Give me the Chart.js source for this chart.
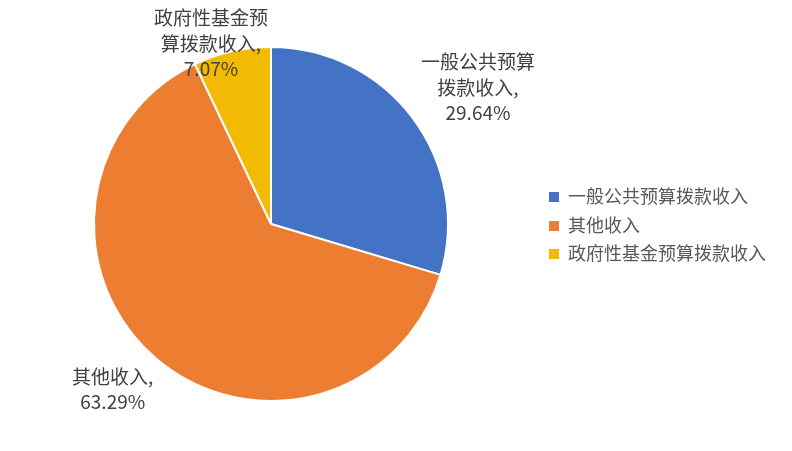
<!DOCTYPE html>
<html>
<head>
<meta charset="utf-8">
<script src="https://cdn.jsdelivr.net/npm/chart.js@4/dist/chart.umd.min.js"></script>
<style>
  body { margin: 0; background: #fff; }
  #wrap { position: relative; width: 792px; height: 451px; }
  #legend { position: absolute; left: 549px; top: 181px; font-family: "Noto Sans CJK SC", sans-serif; font-size: 18px; color: #595959; }
  #legend div { height: 28.5px; line-height: 28.5px; white-space: nowrap; }
  #legend span { display: inline-block; width: 10px; height: 10px; margin-right: 9px; vertical-align: 1px; }
</style>
</head>
<body>
<div id="wrap">
  <canvas id="pie"></canvas>
  <div id="legend"></div>
</div>
<script>
// Chart data
const categories = ['一般公共预算拨款收入', '其他收入', '政府性基金预算拨款收入'];
const shares = [29.64, 63.29, 7.07];
const labelLines = [['一般公共预算', '拨款收入,'], ['其他收入,'], ['政府性基金预', '算拨款收入,']];
const colors = ['#4472C4', '#ED7D31', '#F2BA02'];

// Label offsets from the outer edge of each slice (pixels)
const labelOffsets = [[65, -31], [-43, 31], [-21, -8]];

// Plugin to draw the data labels next to the slices
const pieLabels = {
  id: 'pieLabels',
  afterDatasetsDraw(chart) {
    const ctx = chart.ctx;
    const meta = chart.getDatasetMeta(0);
    ctx.save();
    ctx.font = '19px "Noto Sans CJK SC", sans-serif';
    ctx.fillStyle = '#404040';
    ctx.textAlign = 'center';
    ctx.textBaseline = 'middle';
    meta.data.forEach((arc, i) => {
      const p = arc.getProps(['x', 'y', 'startAngle', 'endAngle', 'outerRadius'], true);
      const mid = (p.startAngle + p.endAngle) / 2;
      const lx = p.x + p.outerRadius * Math.cos(mid) + labelOffsets[i][0];
      const ly = p.y + p.outerRadius * Math.sin(mid) + labelOffsets[i][1];
      const lines = labelLines[i].concat([shares[i].toFixed(2) + '%']);
      const lh = 25.5;
      const top = ly - (lines.length - 1) * lh / 2;
      lines.forEach((t, k) => ctx.fillText(t, lx, top + k * lh));
    });
    ctx.restore();
  }
};

new Chart(document.getElementById('pie'), {
  type: 'pie',
  data: {
    labels: categories,
    datasets: [{
      data: shares,
      backgroundColor: colors,
      borderColor: '#ffffff',
      borderWidth: 2
    }]
  },
  options: {
    responsive: true,
    maintainAspectRatio: false,
    animation: false,
    layout: { padding: { left: 93, right: 343, top: 46, bottom: 49 } },
    plugins: {
      legend: { display: false },
      tooltip: { enabled: false }
    }
  },
  plugins: [pieLabels]
});

// HTML legend built from the arrays
const legend = document.getElementById('legend');
categories.forEach((c, i) => {
  const row = document.createElement('div');
  row.innerHTML = '<span style="background:' + colors[i] + '"></span>' + c;
  legend.appendChild(row);
});
</script>
</body>
</html>
